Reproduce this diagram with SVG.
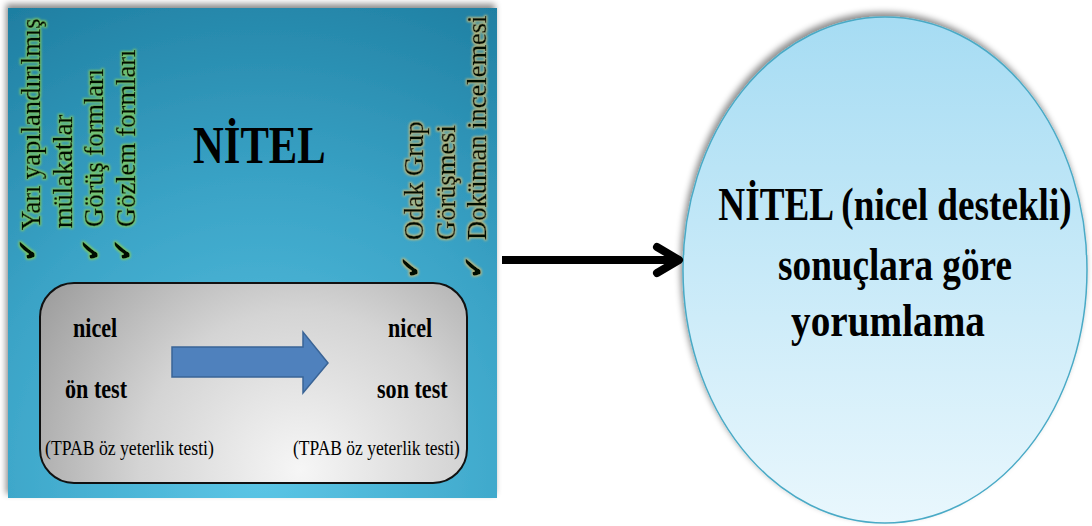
<svg xmlns="http://www.w3.org/2000/svg" width="1092" height="526" viewBox="0 0 1092 526">
  <defs>
    <radialGradient id="panelFill" gradientUnits="userSpaceOnUse" cx="260" cy="470" r="520">
      <stop offset="0" stop-color="#5cc6e6"/>
      <stop offset="0.55" stop-color="#3aa3c6"/>
      <stop offset="1" stop-color="#1f7fa2"/>
    </radialGradient>
    <radialGradient id="boxFill" gradientUnits="userSpaceOnUse" cx="300" cy="470" r="320">
      <stop offset="0" stop-color="#f6f6f6"/>
      <stop offset="0.5" stop-color="#d4d4d4"/>
      <stop offset="1" stop-color="#9a9a9a"/>
    </radialGradient>
    <linearGradient id="ovalFill" x1="0" y1="0" x2="0" y2="1">
      <stop offset="0" stop-color="#a6dcf3"/>
      <stop offset="1" stop-color="#e9f7fd"/>
    </linearGradient>
    <filter id="shadow" x="-5%" y="-5%" width="110%" height="110%">
      <feGaussianBlur in="SourceAlpha" stdDeviation="3"/>
      <feOffset dx="-2" dy="-4" result="o"/>
      <feFlood flood-color="#000" flood-opacity="0.45"/>
      <feComposite in2="o" operator="in"/>
      <feMerge><feMergeNode/><feMergeNode in="SourceGraphic"/></feMerge>
    </filter>
    <filter id="glowG" x="-20%" y="-40%" width="140%" height="180%">
      <feMorphology in="SourceAlpha" operator="dilate" radius="1" result="d"/>
      <feGaussianBlur in="d" stdDeviation="0.9" result="b"/>
      <feFlood flood-color="#7cc866"/>
      <feComposite in2="b" operator="in" result="g"/>
      <feMerge><feMergeNode in="g"/><feMergeNode in="SourceGraphic"/></feMerge>
    </filter>
    <filter id="glowK" x="-20%" y="-40%" width="140%" height="180%">
      <feMorphology in="SourceAlpha" operator="dilate" radius="1" result="d"/>
      <feGaussianBlur in="d" stdDeviation="0.9" result="b"/>
      <feFlood flood-color="#b6b880"/>
      <feComposite in2="b" operator="in" result="g"/>
      <feMerge><feMergeNode in="g"/><feMergeNode in="SourceGraphic"/></feMerge>
    </filter>
    <style>
      text { font-family: 'Liberation Serif', serif; fill: #000; }
      .side { font-size: 26.5px; fill: #050805; stroke: #050805; stroke-width: 0.5px; }
      .tick { font-size: 28px; fill: #050805; font-family: 'DejaVu Sans', sans-serif; }
      .box-label { font-size: 28px; font-weight: bold; }
      .paren { font-size: 20px; }
      .oval-text { font-size: 40px; font-weight: bold; text-anchor: middle; }
    </style>
  </defs>

  <!-- Qualitative data sources panel -->
  <g id="nitel-panel">
    <rect x="8" y="8" width="489" height="490" fill="url(#panelFill)" filter="url(#shadow)"/>
    <text font-size="52" font-weight="bold" transform="translate(193,163) scale(0.82,1)">NİTEL</text>

    <!-- left column of tools -->
    <g filter="url(#glowG)">
      <text class="tick" transform="translate(37,262) rotate(-90)">✔</text>
      <text class="side" transform="translate(40,230) rotate(-90)">Yarı yapılandırılmış</text>
      <text class="side" transform="translate(72,228) rotate(-90)">mülakatlar</text>
      <text class="tick" transform="translate(100,262) rotate(-90)">✔</text>
      <text class="side" transform="translate(103,227) rotate(-90)">Görüş formları</text>
      <text class="tick" transform="translate(132,262) rotate(-90)">✔</text>
      <text class="side" transform="translate(135,227) rotate(-90)">Gözlem formları</text>
    </g>

    <!-- right column of tools -->
    <g filter="url(#glowK)">
      <text class="tick" transform="translate(420,279) rotate(-90)">✔</text>
      <text class="side" transform="translate(423,240) rotate(-90)">Odak Grup</text>
      <text class="side" transform="translate(455,240) rotate(-90)">Görüşmesi</text>
      <text class="tick" transform="translate(483,279) rotate(-90)">✔</text>
      <text class="side" transform="translate(486,240) rotate(-90)">Doküman incelemesi</text>
    </g>
  </g>

  <!-- Pre-test / post-test box -->
  <g id="nicel-box">
    <rect x="40" y="283" width="427" height="200" rx="34" ry="34" fill="url(#boxFill)" stroke="#111" stroke-width="2"/>
    <text class="box-label" transform="translate(73,337) scale(0.79,1)">nicel</text>
    <text class="box-label" transform="translate(65,398) scale(0.79,1)">ön test</text>
    <text class="paren" transform="translate(45,455) scale(0.885,1)">(TPAB öz yeterlik testi)</text>
    <text class="box-label" transform="translate(388,337) scale(0.79,1)">nicel</text>
    <text class="box-label" transform="translate(377,398) scale(0.79,1)">son test</text>
    <text class="paren" transform="translate(293,455) scale(0.875,1)">(TPAB öz yeterlik testi)</text>
  </g>

  <!-- Interpretation oval -->
  <g id="yorum-oval">
    <ellipse cx="885" cy="270" rx="202" ry="253" fill="url(#ovalFill)" stroke="#4aaac6" stroke-width="1.5" filter="url(#shadow)"/>
    <text class="oval-text" transform="translate(895,220) scale(0.93,1.18)">NİTEL (nicel destekli)</text>
    <text class="oval-text" transform="translate(895,280) scale(0.93,1.18)">sonuçlara göre</text>
    <text class="oval-text" transform="translate(888,336) scale(0.98,1.18)">yorumlama</text>
  </g>

  <!-- Connectors -->
  <g id="connectors">
    <path d="M172,347 H303 V332 L328,363 L303,393 V377 H172 Z" fill="#4f81bd" stroke="#3a6496" stroke-width="1.5"/>
    <line x1="502" y1="260" x2="678" y2="260" stroke="#000" stroke-width="8"/>
    <path d="M657,247 L679,260 L657,273" fill="none" stroke="#000" stroke-width="8" stroke-linecap="round" stroke-linejoin="round"/>
  </g>
</svg>
